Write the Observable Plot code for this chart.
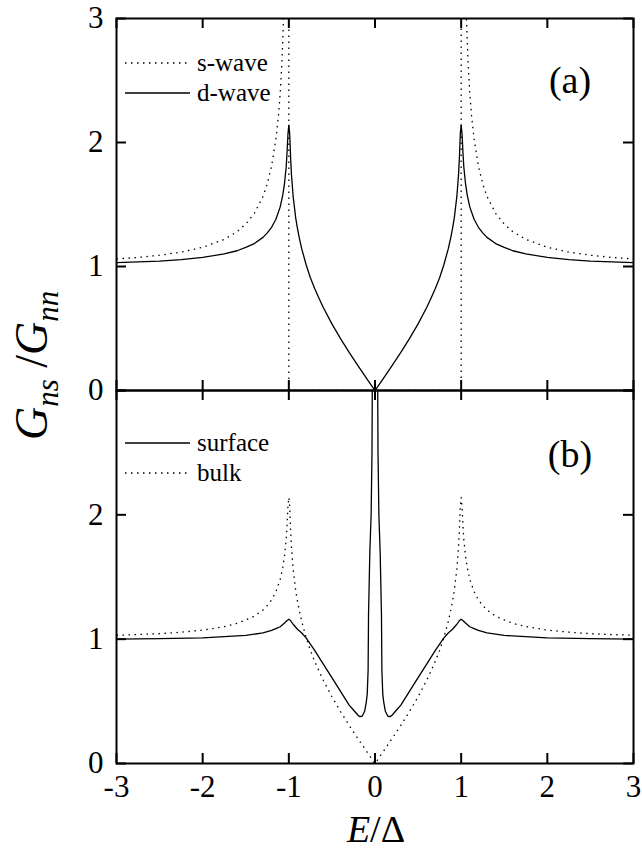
<!DOCTYPE html>
<html>
<head>
<meta charset="utf-8">
<script src="https://cdn.jsdelivr.net/npm/d3@7"></script>
<script src="https://cdn.jsdelivr.net/npm/@observablehq/plot@0.6"></script>
<style>
  body { margin: 0; background: white; font-family: 'Liberation Serif', 'Times New Roman', serif; }
  #wrap { position: relative; width: 642px; height: 856px; }
  #wrap svg { display: block; }
</style>
</head>
<body>
<div id="wrap"></div>
<script>
// ---------- data ----------
const xTicks = [-3, -2, -1, 0, 1, 2, 3];
const yTicks = [0, 1, 2, 3];
const yLabelsA = [0, 1, 2, 3];
const yLabelsB = [0, 1, 2];

// panel (a): s-wave
const sE = [-3, -2.75, -2.5, -2.25, -2, -1.75, -1.6, -1.5, -1.4, -1.3, -1.25, -1.2, -1.15, -1.12, -1.1, -1.08, -1.06, -1.04, -1.02, -1.01, -1.0, -1.0, 0,
            1.0, 1.0, 1.01, 1.02, 1.04, 1.06, 1.08, 1.1, 1.12, 1.15, 1.2, 1.25, 1.3, 1.4, 1.5, 1.6, 1.75, 2, 2.25, 2.5, 2.75, 3];
const sG = [1.061, 1.073, 1.091, 1.116, 1.155, 1.219, 1.281, 1.342, 1.429, 1.565, 1.667, 1.809, 2.03, 2.22, 2.40, 2.65, 3.02, 3.64, 5.07, 7.12, 12, 0, 0,
            0, 12, 7.12, 5.07, 3.64, 3.02, 2.65, 2.40, 2.22, 2.03, 1.809, 1.667, 1.565, 1.429, 1.342, 1.281, 1.219, 1.155, 1.116, 1.091, 1.073, 1.061];

// panel (a): d-wave  (also the "bulk" curve of panel (b))
const dE = [-3, -2.75, -2.5, -2.25, -2, -1.75, -1.6, -1.5, -1.4, -1.3, -1.25, -1.2, -1.15, -1.1, -1.07, -1.05, -1.03, -1.02, -1.01, -1.0,
            -0.99, -0.98, -0.97, -0.95, -0.92, -0.9, -0.88, -0.85, -0.8, -0.75, -0.7, -0.65, -0.6, -0.5, -0.4, -0.3, -0.2, -0.1, -0.05, 0,
            0.05, 0.1, 0.2, 0.3, 0.4, 0.5, 0.6, 0.65, 0.7, 0.75, 0.8, 0.85, 0.88, 0.9, 0.92, 0.95, 0.97, 0.98, 0.99,
            1.0, 1.01, 1.02, 1.03, 1.05, 1.07, 1.1, 1.15, 1.2, 1.25, 1.3, 1.4, 1.5, 1.6, 1.75, 2, 2.25, 2.5, 2.75, 3];
const dG = [1.031, 1.037, 1.044, 1.056, 1.073, 1.101, 1.127, 1.155, 1.185, 1.235, 1.271, 1.316, 1.381, 1.481, 1.577, 1.671, 1.808, 1.929, 2.07, 2.14,
            2.07, 1.884, 1.746, 1.565, 1.390, 1.307, 1.235, 1.142, 1.016, 0.909, 0.822, 0.744, 0.669, 0.537, 0.418, 0.307, 0.202, 0.100, 0.050, 0.0,
            0.050, 0.100, 0.202, 0.307, 0.418, 0.537, 0.669, 0.744, 0.822, 0.909, 1.016, 1.142, 1.235, 1.307, 1.390, 1.565, 1.746, 1.884, 2.07,
            2.14, 2.07, 1.929, 1.808, 1.671, 1.577, 1.481, 1.381, 1.316, 1.271, 1.235, 1.185, 1.155, 1.127, 1.101, 1.073, 1.056, 1.044, 1.037, 1.031];

// panel (b): surface
const uE = [-3, -2.5, -2, -1.5, -1.3, -1.2, -1.15, -1.1, -1.05, -1.02, -1.0, -0.98, -0.95, -0.9, -0.85, -0.8, -0.75, -0.7, -0.6, -0.5, -0.4, -0.3,
            -0.25, -0.2, -0.18, -0.15, -0.12, -0.10, -0.09, -0.08, -0.075, -0.06, -0.045, -0.035, -0.03, -0.01, 0,
            0.01, 0.03, 0.035, 0.045, 0.06, 0.075, 0.08, 0.09, 0.10, 0.12, 0.15, 0.18, 0.2, 0.25,
            0.3, 0.4, 0.5, 0.6, 0.7, 0.75, 0.8, 0.85, 0.9, 0.95, 0.98, 1.0, 1.02, 1.05, 1.1, 1.15, 1.2, 1.3, 1.5, 2, 2.5, 3];
const uG = [1.00, 1.005, 1.01, 1.03, 1.05, 1.07, 1.085, 1.10, 1.13, 1.15, 1.16, 1.15, 1.12, 1.08, 1.05, 1.01, 0.96, 0.91, 0.80, 0.69, 0.58, 0.47,
            0.43, 0.39, 0.378, 0.38, 0.42, 0.50, 0.56, 0.75, 1.2, 1.7, 2.0, 2.5, 3.2, 6, 8,
            6, 3.2, 2.5, 2.0, 1.7, 1.2, 0.75, 0.56, 0.50, 0.42, 0.38, 0.378, 0.39, 0.43,
            0.47, 0.58, 0.69, 0.80, 0.91, 0.96, 1.01, 1.05, 1.08, 1.12, 1.15, 1.16, 1.15, 1.13, 1.10, 1.085, 1.07, 1.05, 1.03, 1.01, 1.005, 1.00];

const legendA = [{label: "s-wave", dash: true}, {label: "d-wave", dash: false}];
const legendB = [{label: "surface", dash: false}, {label: "bulk", dash: true}];
const panelLabels = ["(a)", "(b)"];

// ---------- build tables ----------
const sWave = sE.map((E, i) => ({E, G: sG[i]}));
const dWave = dE.map((E, i) => ({E, G: dG[i]}));
const surface = uE.map((E, i) => ({E, G: uG[i]}));

const FONT = "'Liberation Serif', 'Times New Roman', serif";
const DASH = "1.5,4.5";
const W = 642, ML = 116, MR = 9;
const PW = W - ML - MR;

function panel({height, marginTop, marginBottom, lines, yLabels, xLabels}) {
  const PH = height - marginTop - marginBottom;
  const marks = [
    ...lines.map(([data, dashed]) => Plot.line(data, {
      x: "E", y: "G", clip: true, stroke: "black", strokeWidth: 1.3,
      strokeDasharray: dashed ? DASH : null, strokeLinecap: "butt"
    })),
    Plot.frame({stroke: "black", strokeWidth: 2}),
    Plot.ruleX(xTicks, {insetTop: PH - 10, stroke: "black", strokeWidth: 2}),
    Plot.ruleX(xTicks, {insetBottom: PH - 10, stroke: "black", strokeWidth: 2}),
    Plot.ruleY(yTicks, {insetRight: PW - 10, stroke: "black", strokeWidth: 2}),
    Plot.ruleY(yTicks, {insetLeft: PW - 10, stroke: "black", strokeWidth: 2}),
    Plot.axisY({ticks: yLabels, tickSize: 0, tickPadding: 13, tickFormat: d => String(d),
                fontSize: 31, fontFamily: FONT, label: null})
  ];
  if (xLabels) {
    marks.push(Plot.axisX({ticks: xTicks, tickSize: 0, tickPadding: 11, tickFormat: d => String(d),
                           fontSize: 31, fontFamily: FONT, label: null}));
  }
  return Plot.plot({
    width: W, height, marginLeft: ML, marginRight: MR, marginTop, marginBottom,
    x: {domain: [-3, 3], axis: xLabels ? undefined : null, label: null},
    y: {domain: [0, 3], label: null},
    style: {fontFamily: FONT, fontSize: "31px", color: "black", background: "transparent", overflow: "visible"},
    marks
  });
}

const wrap = document.getElementById("wrap");
wrap.append(panel({height: 390, marginTop: 18, marginBottom: 0,
                   lines: [[sWave, true], [dWave, false]], yLabels: yLabelsA, xLabels: false}));
wrap.append(panel({height: 466, marginTop: 0, marginBottom: 93,
                   lines: [[surface, false], [dWave, true]], yLabels: yLabelsB, xLabels: true}));

// ---------- overlay: axis titles, legends, panel labels ----------
const ov = d3.create("svg")
  .attr("width", W).attr("height", 856)
  .style("position", "absolute").style("left", "0px").style("top", "0px")
  .style("pointer-events", "none")
  .style("font-family", FONT);

// y title
const yt = ov.append("text")
  .attr("transform", "translate(47,440) rotate(-90)")
  .attr("font-size", 46).attr("font-style", "italic").attr("fill", "black");
yt.append("tspan").text("G");
yt.append("tspan").attr("font-size", 31).attr("dy", 11).text("ns");
yt.append("tspan").attr("dy", -11).attr("font-style", "normal").text(" /");
yt.append("tspan").text("G");
yt.append("tspan").attr("font-size", 31).attr("dy", 11).text("nn");

// x title
const xt = ov.append("text")
  .attr("x", 376).attr("y", 842).attr("text-anchor", "middle")
  .attr("font-size", 38).attr("fill", "black");
xt.append("tspan").attr("font-style", "italic").text("E");
xt.append("tspan").text("/\u0394");

// legends
function legend(items, y0) {
  items.forEach((it, i) => {
    const y = y0 + i * 30;
    ov.append("line").attr("x1", 125).attr("x2", 190).attr("y1", y).attr("y2", y)
      .attr("stroke", "black").attr("stroke-width", 1.3)
      .attr("stroke-dasharray", it.dash ? DASH : null);
    ov.append("text").attr("x", 197).attr("y", y).attr("dy", "0.33em")
      .attr("font-size", 25).attr("fill", "black").text(it.label);
  });
}
legend(legendA, 63);
legend(legendB, 443);

// panel labels
ov.append("text").attr("x", 570).attr("y", 93).attr("text-anchor", "middle")
  .attr("font-size", 38).attr("fill", "black").text(panelLabels[0]);
ov.append("text").attr("x", 570).attr("y", 467).attr("text-anchor", "middle")
  .attr("font-size", 38).attr("fill", "black").text(panelLabels[1]);

wrap.append(ov.node());
</script>
</body>
</html>
